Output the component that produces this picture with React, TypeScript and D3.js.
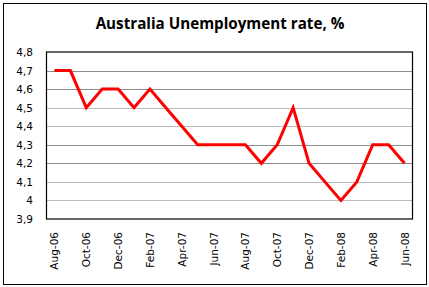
import React from "react";
import * as d3 from "d3";

const months = ["Aug-06","Sep-06","Oct-06","Nov-06","Dec-06","Jan-07","Feb-07","Mar-07","Apr-07","May-07","Jun-07","Jul-07","Aug-07","Sep-07","Oct-07","Nov-07","Dec-07","Jan-08","Feb-08","Mar-08","Apr-08","May-08","Jun-08"];
const rates = [4.7,4.7,4.5,4.6,4.6,4.5,4.6,4.5,4.4,4.3,4.3,4.3,4.3,4.2,4.3,4.5,4.2,4.1,4.0,4.1,4.3,4.3,4.2];
const yTicks = [3.9,4.0,4.1,4.2,4.3,4.4,4.5,4.6,4.7,4.8];
const dottedTicks = [4.0,4.1,4.4,4.5];

export default function App() {
  const W = 429, H = 287;
  const left = 46.5, right = 412.5, top = 52, bottom = 219;
  const x = d3.scaleBand<string>().domain(months).range([left, right]);
  const y = d3.scaleLinear().domain([3.9, 4.8]).range([bottom, top]);
  const line = d3.line<number>().x((_, i) => x(months[i])! + x.bandwidth() / 2).y(d => y(d));
  const fmt = (v: number) => (Number.isInteger(v) ? String(v) : v.toFixed(1).replace(".", ","));
  return (
    <svg width={W} height={H} style={{ position: "absolute", left: 0, top: 0 }}>
      <rect x={0} y={0} width={W} height={H} fill="#fff" />
      <rect x={3.5} y={3.5} width={423} height={281} fill="none" stroke="#000" strokeWidth={1} />
      <text x={220} y={29} textAnchor="middle" fontFamily="'Open Sans', 'DejaVu Sans', sans-serif" fontWeight="bold" fontSize={15.2}>Australia Unemployment rate, %</text>
      {yTicks.slice(1, -1).map(t => (
        <line key={t} x1={left} x2={right} y1={Math.round(y(t)) + 0.5} y2={Math.round(y(t)) + 0.5}
          stroke={dottedTicks.includes(t) ? "#777" : "#8c8c8c"} strokeWidth={1}
          strokeDasharray={dottedTicks.includes(t) ? "1,1" : undefined} />
      ))}
      <rect x={left} y={top} width={right - left} height={bottom - top} fill="none" stroke="#000" strokeWidth={1.2} />
      {yTicks.map(t => (
        <text key={t} x={33} y={y(t) + 4} textAnchor="end" fontFamily="'DejaVu Sans', sans-serif" fontSize={10.5}>{fmt(t)}</text>
      ))}
      {months.map((m, i) => i % 2 === 0 ? (
        <text key={m} transform={`translate(${x(m)! + x.bandwidth() / 2 + 4},232) rotate(-90)`} textAnchor="end"
          fontFamily="'DejaVu Sans', sans-serif" fontSize={10.5}>{m}</text>
      ) : null)}
      <path d={line(rates)!} fill="none" stroke="#ff0000" strokeWidth={3} strokeLinejoin="miter" />
    </svg>
  );
}
